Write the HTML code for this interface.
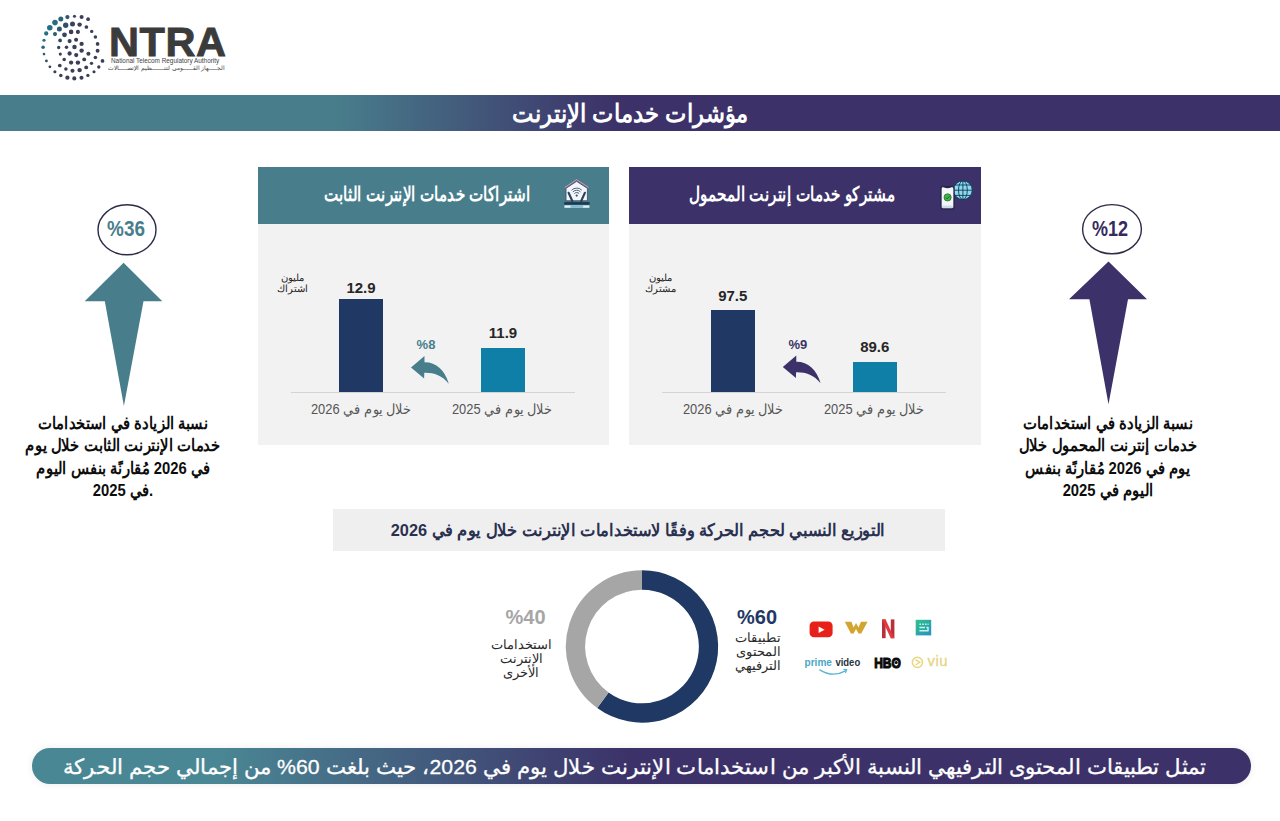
<!DOCTYPE html>
<html lang="ar">
<head>
<meta charset="utf-8">
<title>مؤشرات خدمات الإنترنت</title>
<style>
html,body{margin:0;padding:0;background:#fff;}
body{width:1280px;height:821px;overflow:hidden;position:relative;font-family:"Liberation Sans",sans-serif;color:#111;}
.abs{position:absolute;}
.t{position:absolute;white-space:nowrap;direction:rtl;line-height:1;}
.c{text-align:center;}
.b{font-weight:bold;}
#gfx{position:absolute;left:0;top:0;width:1280px;height:821px;}
/* title bar */
#titlebar{left:0;top:95px;width:1280px;height:36px;background:linear-gradient(90deg,#487e8c 0%,#487e8c 26%,#3c3269 48%,#3c3269 100%);}
#title{left:430px;width:400px;top:101px;font-size:25px;color:#fff;transform:scaleX(0.905);}
/* panels */
.panel{background:#f2f2f2;}
#p1{left:257.5px;top:167px;width:351.5px;height:278px;}
#p2{left:629.3px;top:167px;width:352px;height:278px;}
.ph{position:absolute;left:0;top:0;width:100%;height:56.5px;}
#p1 .ph{background:#487e8c;}
#p2 .ph{background:#3c3269;}
.ptitle{color:#fff;font-size:20px;top:17px;}
.unit{font-size:10px;line-height:11px;color:#222;white-space:normal;}
.val{font-size:15px;color:#262626;direction:ltr;}
.pct{font-size:13px;direction:rtl;}
.xl{font-size:14px;color:#555;transform:scaleX(0.92);margin-top:1px;}
.bar{position:absolute;}
.dk{background:#1f3864;}
.lt{background:#0f7fa8;}
.axis{position:absolute;height:1px;background:#d4d4d4;}
/* side blocks */
.big{font-size:22.5px;direction:rtl;}
.side{font-size:17px;line-height:22.3px;white-space:nowrap;color:#0d0d0d;}
/* distribution */
#dtitlebox{left:333px;top:509px;width:612px;height:42px;background:#efefef;}
#dtitle{left:333px;width:612px;top:521.5px;font-size:17px;color:#2a3050;transform:scaleX(0.96);margin-left:-1.5px;}
.dpct{font-size:20px;}
.dlab{font-size:13px;line-height:14px;color:#2a2a2a;white-space:nowrap;}
/* bottom */
#bottombar{left:31.5px;top:747.5px;width:1219.5px;height:36.3px;border-radius:18.2px;box-shadow:0 0 7px rgba(60,60,80,0.10);background:linear-gradient(90deg,#4a8794 0%,#4a8794 15%,#3c3269 49%,#3c3269 100%);}
#bottom{left:25px;width:1219px;top:755.5px;font-size:21px;color:#fff;transform:scaleX(1.0125);-webkit-text-stroke:0.3px #fff;}
/* logo */
#ntra{left:109px;top:20.5px;font-size:41.5px;color:#3b3b3b;direction:ltr;letter-spacing:0.6px;-webkit-text-stroke:0.9px #3b3b3b;}
#ntra-en{left:111px;top:58px;font-size:6.4px;color:#444;direction:ltr;}
#ntra-ar{left:105px;width:120.5px;top:65.3px;font-size:6px;color:#444;text-align:right;}
</style>
</head>
<body>

<!-- ===== vector graphics layer ===== -->
<svg id="gfx" viewBox="0 0 1280 821">
<g id="logo-dots">
<circle cx="88.1" cy="19.2" r="1.85" fill="#3a3e58"/>
<circle cx="81.6" cy="17.0" r="2.04" fill="#3a3e58"/>
<circle cx="74.5" cy="16.3" r="1.57" fill="#364860"/>
<circle cx="67.4" cy="17.1" r="2.13" fill="#2f586d"/>
<circle cx="60.8" cy="19.0" r="2.50" fill="#296577"/>
<circle cx="55.0" cy="22.6" r="2.78" fill="#266e7f"/>
<circle cx="49.8" cy="27.8" r="2.78" fill="#237283"/>
<circle cx="46.2" cy="33.5" r="2.13" fill="#237383"/>
<circle cx="44.0" cy="40.2" r="1.57" fill="#256f7f"/>
<circle cx="43.1" cy="47.3" r="1.76" fill="#286779"/>
<circle cx="44.0" cy="54.1" r="1.30" fill="#2e5b6f"/>
<circle cx="46.4" cy="60.9" r="1.39" fill="#344b63"/>
<circle cx="49.9" cy="66.8" r="1.39" fill="#3a3e58"/>
<circle cx="54.9" cy="71.8" r="1.57" fill="#3a3e58"/>
<circle cx="60.8" cy="75.4" r="1.76" fill="#3a3e58"/>
<circle cx="67.4" cy="77.7" r="2.13" fill="#3a3e58"/>
<circle cx="74.3" cy="78.4" r="2.04" fill="#3a3e58"/>
<circle cx="81.5" cy="77.7" r="2.04" fill="#3a3e58"/>
<circle cx="87.9" cy="75.4" r="1.67" fill="#3a3e58"/>
<circle cx="94.0" cy="71.8" r="1.57" fill="#3a3e58"/>
<circle cx="98.8" cy="67.0" r="1.67" fill="#3a3e58"/>
<circle cx="102.5" cy="60.9" r="1.85" fill="#3a3e58"/>
<circle cx="86.4" cy="27.0" r="1.85" fill="#3a3e58"/>
<circle cx="91.7" cy="31.4" r="1.67" fill="#3a3e58"/>
<circle cx="95.4" cy="37.0" r="1.76" fill="#3a3e58"/>
<circle cx="97.6" cy="43.9" r="1.85" fill="#3a3e58"/>
<circle cx="97.6" cy="50.7" r="1.94" fill="#3a3e58"/>
<circle cx="95.4" cy="57.4" r="1.76" fill="#3a3e58"/>
<circle cx="91.5" cy="63.3" r="1.67" fill="#3a3e58"/>
<circle cx="86.2" cy="67.4" r="1.94" fill="#3a3e58"/>
<circle cx="79.6" cy="70.1" r="2.22" fill="#3a3e58"/>
<circle cx="72.5" cy="70.7" r="2.04" fill="#3a3e58"/>
<circle cx="65.9" cy="69.1" r="1.76" fill="#3a3e58"/>
<circle cx="59.8" cy="65.5" r="1.85" fill="#3a3e58"/>
<circle cx="64.2" cy="59.4" r="1.76" fill="#3a3e58"/>
<circle cx="60.3" cy="54.1" r="1.57" fill="#3a3e58"/>
<circle cx="58.7" cy="47.5" r="1.67" fill="#39415b"/>
<circle cx="60.1" cy="40.4" r="1.85" fill="#364860"/>
<circle cx="55.0" cy="34.1" r="2.04" fill="#2d5d71"/>
<circle cx="59.4" cy="29.0" r="2.50" fill="#2e5a6f"/>
<circle cx="65.7" cy="25.3" r="2.68" fill="#325067"/>
<circle cx="72.5" cy="23.9" r="2.50" fill="#38425b"/>
<circle cx="79.6" cy="24.6" r="2.22" fill="#3a3e58"/>
<circle cx="77.9" cy="31.9" r="2.04" fill="#3a3e58"/>
<circle cx="71.1" cy="31.9" r="2.31" fill="#3a3e58"/>
<circle cx="64.5" cy="34.8" r="2.41" fill="#37455e"/>
<circle cx="76.1" cy="39.7" r="2.04" fill="#3a3e58"/>
<circle cx="69.6" cy="41.1" r="2.04" fill="#3a3e58"/>
<circle cx="81.6" cy="43.9" r="2.13" fill="#3a3e58"/>
<circle cx="74.5" cy="47.0" r="2.22" fill="#3a3e58"/>
<circle cx="66.5" cy="47.3" r="1.76" fill="#3a3e58"/>
<circle cx="81.6" cy="50.6" r="2.22" fill="#3a3e58"/>
<circle cx="88.4" cy="53.8" r="2.04" fill="#3a3e58"/>
<circle cx="69.6" cy="53.5" r="2.13" fill="#3a3e58"/>
<circle cx="76.2" cy="55.1" r="2.13" fill="#3a3e58"/>
<circle cx="84.2" cy="59.4" r="1.94" fill="#3a3e58"/>
<circle cx="77.9" cy="62.6" r="2.22" fill="#3a3e58"/>
<circle cx="71.1" cy="62.6" r="2.13" fill="#3a3e58"/>

</g>
</svg>

<!-- ===== logo text ===== -->
<div class="t b" id="ntra">NTRA</div>
<div class="t" id="ntra-en">National Telecom Regulatory Authority</div>
<div class="t" id="ntra-ar">الجــــهاز القـــــومي لتنــــــظيم الإتصــــالات</div>

<!-- ===== title bar ===== -->
<div class="abs" id="titlebar"></div>
<div class="t c b" id="title">مؤشرات خدمات الإنترنت</div>

<!-- ===== panel 1 : fixed internet ===== -->
<div class="abs panel" id="p1">
  <div class="ph"></div>
  <div class="abs" style="left:0.5px;top:0;width:351px;height:278px;">
  <div class="t c b ptitle" style="left:-1.5px;width:340px;transform:scaleX(0.757);">اشتراكات خدمات الإنترنت الثابت</div>
  <div class="t c unit" style="left:12px;width:44px;top:105px;">مليون<br>اشتراك</div>
  <div class="t c b val" style="left:71px;width:64px;top:113px;">12.9</div>
  <div class="bar dk" style="left:81px;top:132px;width:44px;height:93px;"></div>
  <div class="t c b val" style="left:213px;width:64px;top:158px;">11.9</div>
  <div class="bar lt" style="left:223px;top:181px;width:44px;height:44px;"></div>
  <div class="t c b pct" style="left:148px;width:40px;top:171px;color:#487e8c;">%8</div>
  <div class="axis" style="left:33px;width:284px;top:225px;"></div>
  <div class="t c xl" style="left:43px;width:120px;top:234px;">خلال يوم في 2026</div>
  <div class="t c xl" style="left:184px;width:120px;top:234px;">خلال يوم في 2025</div>
  </div>
</div>

<!-- ===== panel 2 : mobile internet ===== -->
<div class="abs panel" id="p2">
  <div class="ph"></div>
  <div class="abs" style="left:0.5px;top:0;width:351px;height:278px;">
  <div class="t c b ptitle" style="left:-7.5px;width:340px;transform:scaleX(0.762);">مشتركو خدمات إنترنت المحمول</div>
  <div class="t c unit" style="left:9px;width:44px;top:105px;">مليون<br>مشترك</div>
  <div class="t c b val" style="left:71px;width:64px;top:121px;">97.5</div>
  <div class="bar dk" style="left:81px;top:143px;width:44px;height:82px;"></div>
  <div class="t c b val" style="left:213px;width:64px;top:172px;">89.6</div>
  <div class="bar lt" style="left:223px;top:195px;width:44px;height:30px;"></div>
  <div class="t c b pct" style="left:148px;width:40px;top:171px;color:#3c3269;">%9</div>
  <div class="axis" style="left:32px;width:284px;top:225px;"></div>
  <div class="t c xl" style="left:43px;width:120px;top:234px;">خلال يوم في 2026</div>
  <div class="t c xl" style="left:184px;width:120px;top:234px;">خلال يوم في 2025</div>
  </div>
</div>

<!-- ===== left side block ===== -->
<div class="t c b big" style="left:97px;width:60px;top:217.5px;color:#487e8c;transform:scaleX(0.84);margin-left:-1.5px;">%36</div>
<div class="t c b side" style="left:-27px;width:300px;top:413px;transform:scaleX(0.87);">نسبة الزيادة في استخدامات<br>خدمات الإنترنت الثابت خلال يوم<br>في 2026 مُقارنًة بنفس اليوم<br>.في 2025</div>

<!-- ===== right side block ===== -->
<div class="t c b big" style="left:1082px;width:60px;top:217.5px;color:#342c5c;transform:scaleX(0.80);margin-left:-2.5px;">%12</div>
<div class="t c b side" style="left:958px;width:300px;top:413px;transform:scaleX(0.87);">نسبة الزيادة في استخدامات<br>خدمات إنترنت المحمول خلال<br>يوم في 2026 مُقارنًة بنفس<br>اليوم في 2025</div>

<!-- ===== distribution ===== -->
<div class="abs" id="dtitlebox"></div>
<div class="t c b" id="dtitle">التوزيع النسبي لحجم الحركة وفقًا لاستخدامات الإنترنت خلال يوم في 2026</div>

<div class="t c b dpct" style="left:727px;width:60px;top:607px;color:#1f3864;">%60</div>
<div class="t c dlab" style="left:718px;width:80px;top:631px;">تطبيقات<br>المحتوى<br>الترفيهي</div>
<div class="t c b dpct" style="left:495.5px;width:60px;top:607px;color:#a6a6a6;">%40</div>
<div class="t c dlab" style="left:481px;width:80px;top:638px;">استخدامات<br>الإنترنت<br>الأخرى</div>

<!-- ===== bottom bar ===== -->
<div class="abs" id="bottombar"></div>
<div class="t c" id="bottom">تمثل تطبيقات المحتوى الترفيهي النسبة الأكبر من استخدامات الإنترنت خلال يوم في 2026، حيث بلغت 60% من إجمالي حجم الحركة</div>

<!-- ===== top vector layer ===== -->
<svg id="gfx2" class="abs" style="left:0;top:0;width:1280px;height:821px;pointer-events:none" viewBox="0 0 1280 821">
<!-- big side arrows -->
<polygon points="123.6,262.8 162.3,301.2 143.5,301.2 123.9,406 104.8,301.2 84.7,301.2" fill="#487e8c"/>
<polygon points="1108.5,261.4 1147,299.3 1128,299.3 1108.5,404.3 1089.4,299.3 1069,299.3" fill="#3c3269"/>
<ellipse cx="127" cy="229.8" rx="29" ry="25" fill="none" stroke="#2b2b46" stroke-width="1.4"/>
<ellipse cx="1112" cy="229.2" rx="29.4" ry="24.6" fill="none" stroke="#2b2b46" stroke-width="1.4"/>
<!-- curved arrows inside panels -->
<path id="carrow" d="M411,367.4 L424.5,356 L424.5,362.2 C436,362 445,370 448.8,383.7 C442,375.5 434,372.6 424.3,372.8 L424.1,378.6 Z" fill="#487e8c"/>
<path d="M411,367.4 L424.5,356 L424.5,362.2 C436,362 445,370 448.8,383.7 C442,375.5 434,372.6 424.3,372.8 L424.1,378.6 Z" fill="#3c3269" transform="translate(371.8,-0.5)"/>
<!-- donut -->
<path d="M642,580.0 A66.5 66.5 0 1 1 602.91,700.30" fill="none" stroke="#1f3864" stroke-width="19.3"/>
<path d="M602.91,700.30 A66.5 66.5 0 0 1 642,580.0" fill="none" stroke="#a6a6a6" stroke-width="19.3"/>
<!-- house / wifi icon -->
<g id="ic-house">
<polygon points="566,200.8 566,188.3 576.6,181.3 587.4,188.3 587.4,200.8" fill="#f4f6fb" stroke="#42546a" stroke-width="0.9"/>
<polyline points="563.9,188.4 576.6,179.8 589.5,188.4" fill="none" stroke="#6a5f7e" stroke-width="1.7" stroke-linejoin="miter"/>
<polyline points="564.6,187.6 576.6,179.6 588.8,187.6" fill="none" stroke="#e9c6d2" stroke-width="0.7"/>
<line x1="572.3" y1="201" x2="568.6" y2="192.8" stroke="#2a4458" stroke-width="2.1" stroke-linecap="round"/>
<line x1="581.2" y1="201" x2="584.9" y2="192.8" stroke="#2a4458" stroke-width="2.1" stroke-linecap="round"/>
<circle cx="576.7" cy="195.6" r="1.1" fill="#3d5068"/>
<path d="M574.3,193.6 A3.2 3.2 0 0 1 579.1,193.6" fill="none" stroke="#3d5068" stroke-width="0.9"/><path d="M572.9,191.9 A5.2 5.2 0 0 1 580.5,191.9" fill="none" stroke="#3d5068" stroke-width="0.9"/>
<path d="M571.6,190.2 A7.2 7.2 0 0 1 581.8,190.2" fill="none" stroke="#3d5068" stroke-width="0.9"/>
<rect x="564.2" y="202.1" width="25.4" height="2.6" fill="#1d3b50"/>
<rect x="564.4" y="205.3" width="25" height="2.5" fill="#dff3fb"/>
<rect x="570.5" y="205.3" width="12.6" height="2.5" fill="#7fb9cf"/>
</g>
<!-- phone / globe icon -->
<g id="ic-mobile">
<circle cx="962.9" cy="190.2" r="9.4" fill="#8fd8f0" stroke="#0f3d55" stroke-width="1"/>
<ellipse cx="962.9" cy="190.2" rx="4.4" ry="9.4" fill="none" stroke="#0f3d55" stroke-width="0.9"/>
<line x1="962.9" y1="180.8" x2="962.9" y2="199.6" stroke="#0f3d55" stroke-width="0.9"/>
<line x1="953.5" y1="190.2" x2="972.3" y2="190.2" stroke="#0f3d55" stroke-width="0.9"/>
<path d="M955.2,185 H970.6 M955.2,195.4 H970.6" stroke="#0f3d55" stroke-width="0.9" fill="none"/>
<rect x="941" y="186.6" width="13" height="22.4" rx="1.9" fill="#f3f5fb" stroke="#23234a" stroke-width="1.3"/>
<path d="M943.5,186.9 Q947.5,189.4 951.5,186.9" fill="#2a2a55" stroke="none"/>
<rect x="942" y="205.6" width="11" height="2.4" fill="#cfd9ec"/>
<circle cx="947.6" cy="197.4" r="3.6" fill="#46b04a" stroke="#1f6e2a" stroke-width="0.8"/>
<path d="M945.9,197.5 L947.2,198.8 L949.5,196.2" fill="none" stroke="#155a20" stroke-width="0.9"/>
</g>
<!-- app logos -->
<g id="logos">
<rect x="809.6" y="621.4" width="23" height="15.8" rx="4.3" fill="#e8201a"/>
<polygon points="818.6,626.6 818.6,633 824.6,629.8" fill="#fff"/>
<polygon points="844.8,621.8 851.4,621.8 853.6,627.5 856,622.9 858.5,627.5 861,621.8 867.6,621.8 861.2,633.5 858.5,633.5 856,629.1 853.6,633.5 850.9,633.5" fill="#d3a42e"/>
<rect x="882" y="619.4" width="3.6" height="18.8" fill="#b8303a"/>
<rect x="890.8" y="619.4" width="3.6" height="18.8" fill="#b8303a"/>
<polygon points="882,619.4 885.6,619.4 894.4,638.2 890.8,638.2" fill="#df3a3f"/>
<defs><linearGradient id="shg" x1="0" y1="0" x2="1" y2="1"><stop offset="0" stop-color="#2fc488"/><stop offset="1" stop-color="#2a8dc6"/></linearGradient></defs>
<rect x="915.7" y="619.8" width="15.5" height="15.6" fill="url(#shg)"/>
<path d="M919.4,624.2 H921 M922.2,624.2 H923.8 M925,624.2 H926.6 M927.6,624.2 H928.6" stroke="#c7f8e4" stroke-width="1.4" fill="none"/>
<path d="M919.4,627.4 H925 M926.4,627.4 H928.6 M919.4,630.8 H928.6 M928,627.4 V630.8" stroke="#c7f8e4" stroke-width="1.5" fill="none"/>
<text transform="translate(804.6,666.4) scale(0.93,1)" font-family="Liberation Sans, sans-serif" font-weight="bold" font-size="10.8" fill="#4aa7c6">prime</text>
<text transform="translate(835.4,666.4) scale(0.88,1)" font-family="Liberation Sans, sans-serif" font-weight="bold" font-size="10.8" fill="#2a3440">video</text>
<path d="M819.4,669.6 Q832.5,678.2 846,670.6" fill="none" stroke="#56b4d2" stroke-width="1.3"/>
<path d="M843.4,669.4 L846.8,669.8 L845.4,673" fill="none" stroke="#56b4d2" stroke-width="1.1"/>
<text transform="translate(874.2,668) scale(0.8,1)" font-family="Liberation Sans, sans-serif" font-weight="bold" font-size="15" fill="#0a0a0a" stroke="#0a0a0a" stroke-width="1.1">HBO</text><circle cx="896.2" cy="662.6" r="1.5" fill="#0a0a0a"/>
<circle cx="917.4" cy="662.3" r="5.1" fill="none" stroke="#e8d67e" stroke-width="1.5"/>
<path d="M915.6,659.6 L919.8,662.3 L915.6,665" fill="none" stroke="#e8d67e" stroke-width="1.4"/>
<text transform="translate(927.4,666.2) scale(1.02,1)" font-family="Liberation Sans, sans-serif" font-size="14.5" fill="#e6d588" stroke="#e6d588" stroke-width="0.35" letter-spacing="0.6">viu</text>
</g>
</svg>

</body>
</html>
